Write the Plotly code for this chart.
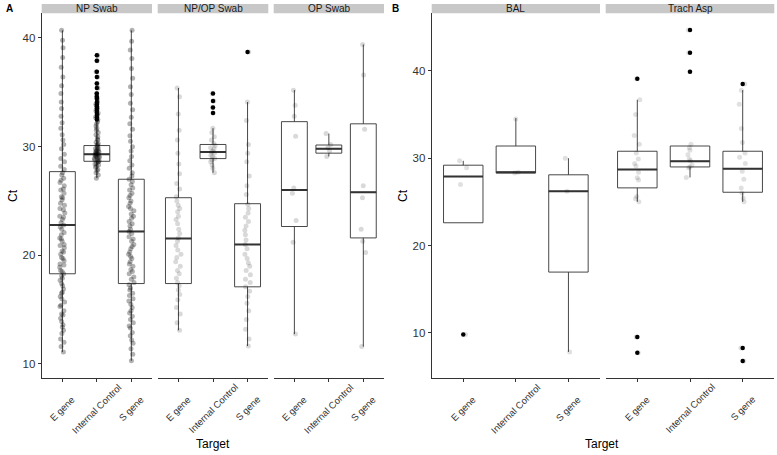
import plotly.graph_objects as go

targets = ["E gene", "Internal Control", "S gene"]
facets_A = ["NP Swab", "NP/OP Swab", "OP Swab"]
facets_B = ["BAL", "Trach Asp"]

# Box statistics per facet (order follows targets)
q1 = {"NP Swab": [18.3, 28.65, 17.4], "NP/OP Swab": [17.4, 28.9, 17.1], "OP Swab": [22.65, 29.4, 21.6],
      "BAL": [22.6, 28.3, 16.95], "Trach Asp": [26.6, 29.0, 26.1]}
median = {"NP Swab": [22.8, 29.3, 22.2], "NP/OP Swab": [21.55, 29.5, 21.0], "OP Swab": [26.0, 29.8, 25.8],
          "BAL": [27.9, 28.4, 26.2], "Trach Asp": [28.7, 29.65, 28.8]}
q3 = {"NP Swab": [27.7, 30.1, 27.0], "NP/OP Swab": [25.3, 30.2, 24.75], "OP Swab": [32.3, 30.15, 32.1],
      "BAL": [29.2, 31.4, 28.1], "Trach Asp": [30.8, 31.4, 30.8]}
lower = {"NP Swab": [11.1, 27.1, 10.3], "NP/OP Swab": [13.1, 27.6, 11.65], "OP Swab": [12.75, 29.1, 11.6],
         "BAL": [22.6, 28.3, 7.8], "Trach Asp": [25.0, 27.8, 25.0]}
upper = {"NP Swab": [40.7, 32.3, 40.7], "NP/OP Swab": [35.4, 31.7, 34.1], "OP Swab": [35.2, 31.2, 39.4],
         "BAL": [29.7, 34.6, 30.0], "Trach Asp": [36.7, 31.4, 37.8]}

# Outliers per facet and target
outliers = {
    "NP Swab": {"Internal Control": [32.5, 32.7, 32.9, 33.1, 33.3, 33.5, 33.7, 33.9, 34.1, 34.4, 34.6, 34.9,
                                     35.4, 35.8, 36.4, 36.9, 37.9, 38.4]},
    "NP/OP Swab": {"Internal Control": [33.1, 33.6, 34.2, 34.9], "S gene": [38.7]},
    "OP Swab": {},
    "BAL": {"E gene": [9.8]},
    "Trach Asp": {"E gene": [39.1, 9.5, 7.7], "Internal Control": [39.9, 42.1, 44.7], "S gene": [38.5, 8.25, 6.75]},
}

# Individual measurements (jittered points)
points = {
    "NP Swab": {
        "E gene": [11.1, 11.6, 12.0, 12.3, 12.8, 13.1, 13.4, 13.6, 13.9, 14.2, 14.5, 14.6, 14.9, 15.3, 15.4, 15.7,
                   16.0, 16.2, 16.5, 16.6, 16.9, 17.2, 17.4, 17.7, 17.9, 18.1, 18.3, 18.5, 18.6, 18.9, 19.1, 19.2,
                   19.5, 19.7, 19.8, 20.1, 20.3, 20.4, 20.7, 20.9, 21.0, 21.3, 21.5, 21.6, 21.9, 22.1, 22.4, 22.6,
                   22.8, 23.0, 23.3, 23.5, 23.6, 23.9, 24.2, 24.3, 24.6, 24.8, 25.1, 25.3, 25.4, 25.7, 26.0, 26.1,
                   26.4, 26.7, 26.9, 27.1, 27.4, 27.6, 27.9, 28.2, 28.6, 28.9, 29.3, 29.8, 30.2, 30.6, 31.1, 31.7,
                   32.2, 32.8, 33.5, 34.1, 34.9, 35.6, 36.4, 37.3, 38.2, 39.1, 39.8, 40.7],
        "Internal Control": [27.1, 27.4, 27.6, 27.8, 27.9, 28.1, 28.2, 28.3, 28.4, 28.5, 28.6, 28.6, 28.7, 28.8,
                             28.8, 28.9, 29.0, 29.0, 29.1, 29.1, 29.2, 29.2, 29.3, 29.3, 29.4, 29.4, 29.5, 29.5,
                             29.6, 29.6, 29.7, 29.8, 29.8, 29.9, 30.0, 30.1, 30.2, 30.3, 30.4, 30.6, 30.7, 30.9,
                             31.1, 31.3, 31.5, 31.7, 31.9, 32.1, 32.3, 32.5, 32.7, 32.9, 33.1, 33.3, 33.5, 33.7,
                             33.9, 34.1, 34.4, 34.6, 34.9, 35.4, 35.8, 36.4, 36.9, 37.9, 38.4],
        "S gene": [10.3, 10.9, 11.4, 11.9, 12.2, 12.6, 12.9, 13.3, 13.5, 13.8, 14.1, 14.4, 14.7, 14.9, 15.2, 15.5,
                   15.8, 16.0, 16.3, 16.5, 16.8, 17.0, 17.3, 17.5, 17.8, 18.0, 18.3, 18.5, 18.7, 19.0, 19.2, 19.4,
                   19.7, 19.9, 20.1, 20.3, 20.6, 20.8, 21.0, 21.3, 21.5, 21.7, 22.0, 22.2, 22.4, 22.7, 22.9, 23.1,
                   23.4, 23.6, 23.8, 24.1, 24.3, 24.5, 24.8, 25.0, 25.3, 25.5, 25.7, 26.0, 26.2, 26.5, 26.8, 27.0,
                   27.3, 27.6, 28.0, 28.3, 28.7, 29.1, 29.6, 30.0, 30.5, 31.0, 31.6, 32.1, 32.7, 33.4, 34.0, 34.8,
                   35.5, 36.3, 37.2, 38.1, 38.9, 39.7, 40.7],
    },
    "NP/OP Swab": {
        "E gene": [13.1, 13.8, 14.6, 15.2, 15.9, 16.4, 16.8, 17.2, 17.5, 17.9, 18.3, 18.6, 19.0, 19.4, 19.8, 20.1,
                   20.5, 20.9, 21.3, 21.6, 22.0, 22.4, 22.9, 23.3, 23.6, 24.0, 24.3, 24.6, 25.0, 25.4, 26.1, 26.6,
                   27.5, 28.4, 29.4, 30.6, 31.5, 33.0, 34.6, 35.4],
        "Internal Control": [27.6, 28.0, 28.3, 28.6, 28.8, 28.9, 29.1, 29.2, 29.4, 29.5, 29.6, 29.8, 29.9, 30.1,
                             30.3, 30.6, 30.9, 31.3, 31.7, 33.1, 33.6, 34.2, 34.9],
        "S gene": [11.65, 12.3, 13.2, 14.1, 14.9, 15.6, 16.2, 16.7, 17.1, 17.5, 17.8, 18.2, 18.6, 19.0, 19.3, 19.7,
                   20.1, 20.6, 21.0, 21.4, 21.9, 22.3, 22.7, 23.1, 23.5, 23.9, 24.3, 24.7, 25.6, 26.4, 27.3, 28.6,
                   29.4, 30.2, 32.4, 34.1, 38.7],
    },
    "OP Swab": {
        "E gene": [12.75, 21.2, 23.2, 25.7, 26.2, 30.95, 32.8, 33.8, 35.2],
        "Internal Control": [29.1, 29.6, 29.9, 30.2, 31.2],
        "S gene": [11.6, 20.25, 21.3, 22.4, 25.3, 26.4, 31.6, 36.6, 39.4],
    },
    "BAL": {
        "E gene": [9.8, 27.0, 28.9, 29.7],
        "Internal Control": [28.3, 28.4, 34.5],
        "S gene": [7.8, 26.2, 30.0],
    },
    "Trach Asp": {
        "E gene": [7.7, 9.5, 25.0, 25.35, 25.6, 27.5, 27.75, 28.4, 29.1, 29.4, 29.9, 30.6, 31.6, 32.6, 35.0, 36.7, 39.1],
        "Internal Control": [27.8, 28.9, 29.0, 29.2, 29.7, 29.9, 30.4, 30.9, 31.2, 31.6, 39.9, 42.1, 44.7],
        "S gene": [6.75, 8.25, 25.0, 25.4, 26.0, 26.6, 27.6, 28.5, 29.4, 30.1, 30.6, 31.8, 33.4, 36.2, 37.8, 38.5],
    },
}

W, H = 777, 455
def px(x):
    return x / W
def py(y):
    return 1 - y / H

# facet -> (xaxis id, yaxis id, left px, right px)
layout_facets = {
    "NP Swab": ("x", "y", 41.7, 152.0),
    "NP/OP Swab": ("x2", "y", 157.7, 268.3),
    "OP Swab": ("x3", "y", 273.7, 384.0),
    "BAL": ("x4", "y2", 431.7, 600.0),
    "Trach Asp": ("x5", "y2", 605.7, 774.3),
}
point_alpha = {"NP Swab": 0.3, "NP/OP Swab": 0.15, "OP Swab": 0.15, "BAL": 0.12, "Trach Asp": 0.12}

LINE = "#333333"
fig = go.Figure()

for f, (xa, ya, x0, x1) in layout_facets.items():
    # box
    fig.add_trace(go.Box(x=targets, q1=q1[f], median=median[f], q3=q3[f],
                         lowerfence=lower[f], upperfence=upper[f], orientation="v",
                         width=0.75, whiskerwidth=0, fillcolor="rgba(255,255,255,0)",
                         line=dict(color=LINE, width=0.9), boxpoints=False,
                         xaxis=xa, yaxis=ya, hoverinfo="skip", showlegend=False))
    # thicker median
    fig.add_trace(go.Box(x=targets, q1=median[f], median=median[f], q3=median[f],
                         lowerfence=median[f], upperfence=median[f], orientation="v",
                         width=0.75, whiskerwidth=0, fillcolor="rgba(255,255,255,0)",
                         line=dict(color=LINE, width=2), boxpoints=False,
                         xaxis=xa, yaxis=ya, hoverinfo="skip", showlegend=False))
    # outliers
    for t, vals in outliers[f].items():
        fig.add_trace(go.Scatter(x=[t] * len(vals), y=vals, mode="markers",
                                 marker=dict(color="black", size=4.5),
                                 xaxis=xa, yaxis=ya, hoverinfo="skip", showlegend=False))
    # jittered points
    xs, ys = [], []
    for t in targets:
        xs += [t] * len(points[f][t])
        ys += points[f][t]
    fig.add_trace(go.Box(x=xs, y=ys, orientation="v", boxpoints="all", jitter=0.22, pointpos=0,
                         width=0.75, fillcolor="rgba(0,0,0,0)", line=dict(width=0, color="rgba(0,0,0,0)"),
                         marker=dict(color=f"rgba(0,0,0,{point_alpha[f]})", size=5),
                         xaxis=xa, yaxis=ya, hoverinfo="skip", showlegend=False))

FONT = "Liberation Sans, Arial, sans-serif"
axis_common = dict(showline=True, linecolor=LINE, linewidth=1, ticks="outside", ticklen=3,
                   tickcolor=LINE, tickwidth=1, showgrid=False, zeroline=False, automargin=False)

layout = dict(width=W, height=H, margin=dict(l=0, r=0, t=0, b=0, autoexpand=False), paper_bgcolor="white",
              plot_bgcolor="white", boxmode="overlay", showlegend=False,
              font=dict(family=FONT, color="#1a1a1a"))

for f, (xa, ya, x0, x1) in layout_facets.items():
    key = "xaxis" if xa == "x" else "xaxis" + xa[1:]
    layout[key] = dict(domain=[px(x0), px(x1)], anchor=ya, type="category",
                       categoryorder="array", categoryarray=targets, range=[-0.6, 2.6],
                       showticklabels=False, **axis_common)

layout["yaxis"] = dict(domain=[py(378), py(13.3)], anchor="x", range=[8.71, 42.27],
                       tickvals=[10, 20, 30, 40], tickfont=dict(size=11.5, color="#333333", family=FONT),
                       **axis_common)
layout["yaxis2"] = dict(domain=[py(378), py(13.3)], anchor="x4", range=[4.81, 46.61],
                        tickvals=[10, 20, 30, 40], tickfont=dict(size=11.5, color="#333333", family=FONT),
                        **axis_common)

shapes = []
annotations = []
for f, (xa, ya, x0, x1) in layout_facets.items():
    shapes.append(dict(type="rect", xref="paper", yref="paper", x0=px(x0), x1=px(x1),
                       y0=py(13.3), y1=py(4), fillcolor="#c8c8c8", line=dict(width=0), layer="below"))
    annotations.append(dict(text=f, xref="paper", yref="paper", x=px((x0 + x1) / 2), y=py(8.7),
                            showarrow=False, font=dict(size=10, color="#1a1a1a", family=FONT),
                            xanchor="center", yanchor="middle"))
    # rotated category labels, centred under each tick (ggplot angle=45 style)
    for t in targets:
        annotations.append(dict(text=t, xref=xa, yref="paper", x=t, y=py(408.5), showarrow=False,
                                textangle=-45, xanchor="center", yanchor="middle",
                                font=dict(size=9.5, color="#333333", family=FONT)))

annotations += [
    dict(text="<b>A</b>", xref="paper", yref="paper", x=px(4), y=py(8), showarrow=False,
         xanchor="left", yanchor="middle", font=dict(size=10, color="black", family=FONT)),
    dict(text="<b>B</b>", xref="paper", yref="paper", x=px(390), y=py(8), showarrow=False,
         xanchor="left", yanchor="middle", font=dict(size=10, color="black", family=FONT)),
    dict(text="Ct", xref="paper", yref="paper", x=px(13), y=py(196), showarrow=False, textangle=-90,
         xanchor="center", yanchor="middle", font=dict(size=12, color="black", family=FONT)),
    dict(text="Ct", xref="paper", yref="paper", x=px(403), y=py(196), showarrow=False, textangle=-90,
         xanchor="center", yanchor="middle", font=dict(size=12, color="black", family=FONT)),
    dict(text="Target", xref="paper", yref="paper", x=px(213), y=py(444), showarrow=False,
         xanchor="center", yanchor="middle", font=dict(size=12, color="black", family=FONT)),
    dict(text="Target", xref="paper", yref="paper", x=px(602), y=py(444), showarrow=False,
         xanchor="center", yanchor="middle", font=dict(size=12, color="black", family=FONT)),
]
layout["shapes"] = shapes
layout["annotations"] = annotations

fig.update_layout(**layout)
fig.write_html("out.html", config={"displayModeBar": False},
               post_script="document.body.style.margin='0';")
